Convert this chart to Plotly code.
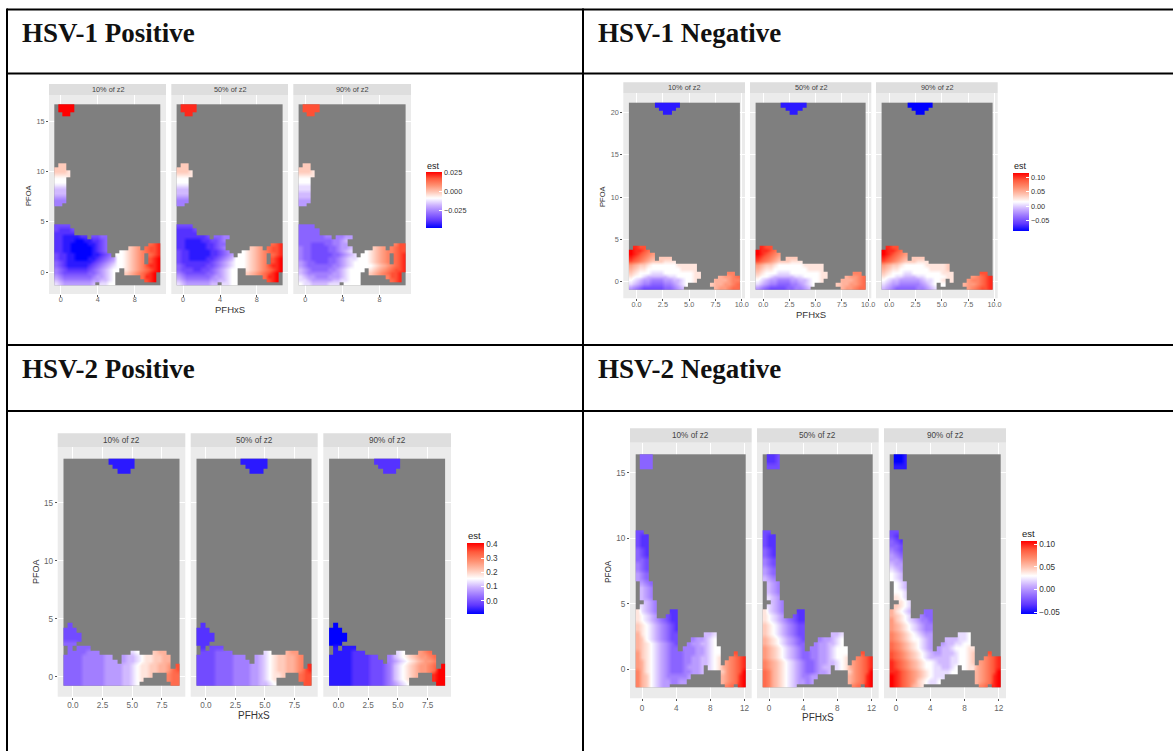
import numpy as np
import plotly.graph_objects as go

W, H = 1173, 751
N_COLS, N_ROWS = 26, 50
LEVELS_NEG = "abcdefghi"

# Estimated values per panel. Row index counts up from the bottom of the grid.
# "col:codes" : a = faint blue ... i = full blue, 0 = white, 1 ... 9 = full red; uncovered cells stay grey.
H1P_10 = {0:"0:abcccccccb 11:aa00", 1:"0:bcdddddddccbba0 22:789", 2:"0:cdeeeeeeedccba0 21:6889",
 3:"0:deffffffeedcba0 17:23456789", 4:"0:defgggggfedcba00 17:123456789", 5:"0:efghhhhhgfedcba00123457889",
 6:"0:efghhhhhhgfedcb0 16:012345 23:789", 7:"0:fgghhiiihhgfedc0 16:012345 23:789",
 8:"0:fgghhiiiihhgfe 15:0 16:012345 23:678", 9:"0:gghhiiiiihgfe 16:012345 22:6778",
 10:"0:gghhiiiiihgfe 18:234 22:6778", 11:"0:gghhiiiihhgfe 23:678", 12:"0:gghhhiihhggfe",
 13:"0:gghhhhgg 9:ffee", 14:"0:ggggg", 15:"0:fgggf", 16:"0:ffff",
 22:"0:dd", 23:"0:ddd", 24:"0:ccc", 25:"0:bbb", 26:"0:bbb", 27:"0:aaa", 28:"0:000", 29:"0:000",
 30:"0:1111", 31:"0:2221", 32:"0:222", 33:"1:22", 47:"2:99", 48:"1:9999", 49:"1:9999"}
H1P_50 = {0:"0:abccccccbb 11:aa00", 1:"0:bcddddddccbba0 14:0 22:789", 2:"0:cdeeeeeedccba00 21:6889",
 3:"0:defffffeedcba00 17:23456789", 4:"0:efffggffedcba00 17:123456789", 5:"0:efgggggffedcba000123457889",
 6:"0:fgggggggfedcba0 15:0 16:012345 23:789", 7:"0:fgghhhhggfedcb0 15:0 16:012345 23:789",
 8:"0:fgghhhhhggfedc 15:0 16:012345 23:678", 9:"0:fgghhhhhggfed 16:012345 22:6778",
 10:"0:gghhhhhggfed 18:234 22:6778", 11:"0:gghhhhhggfee 23:678", 12:"0:gghhhhggffed",
 13:"0:gggggggf 9:eedd", 14:"0:ggggg", 15:"0:ggggf", 16:"0:ffff",
 22:"0:dd", 23:"0:ddd", 24:"0:ccc", 25:"0:bbb", 26:"0:bbb", 27:"0:aaa", 28:"0:000", 29:"0:000",
 30:"0:1111", 31:"0:2221", 32:"0:222", 33:"1:22", 47:"2:88", 48:"1:8888", 49:"1:8888"}
H1P_90 = {0:"0:0aabbbbaaa 11:0000", 1:"0:aabcccccbbaa00 14:0 22:678", 2:"0:abccdddcccba000 21:5778",
 3:"0:bcddddddccba000 17:23456778", 4:"0:bcdeeeeddcba00 14:00 17:123456778",
 5:"0:cdeeeeeeddcba000001234 22:5678", 6:"0:cdeefffeedcba00 15:0 16:012345 23:678",
 7:"0:deeffffeedcbaa0 15:0 16:012345 23:678", 8:"0:deefffffeedcba 15:0 16:012345 23:678",
 9:"0:deeffffeedcba 16:012345 22:5677", 10:"0:deeffffeedccb 18:234 22:5677",
 11:"0:eeefffeeddcc 23:577", 12:"0:eeeeeeeeddcb", 13:"0:eeeeeedd 9:ddcc", 14:"0:eeeee", 15:"0:eeeee",
 16:"0:eeee", 22:"0:cc", 23:"0:ccc", 24:"0:bbb", 25:"0:bbb", 26:"0:aaa", 27:"0:aaa", 28:"0:000",
 29:"0:000", 30:"0:1111", 31:"0:2221", 32:"0:222", 33:"1:22", 47:"2:77", 48:"1:7777", 49:"1:7777"}

H1N_10 = {0:"0:cdefffffeedcb 20:344566", 1:"0:abcddeeeddcba0 19:2334456", 2:"0:0abccdddccbba001 20:333455",
 3:"0:100abbbbbaa000011 21:34456", 4:"0:21000aaa000000011 23:55", 5:"0:3211000000001111",
 6:"0:4322100000011111", 7:"0:76543222111", 8:"0:876543 7:222", 9:"0:987654", 10:"0:98876", 11:"1:877",
 47:"8:hh", 48:"7:hhhh", 49:"6:hhhhhh"}
H1N_50 = {0:"0:cdeffffeeddcb 20:344566", 1:"0:abcddeeeddcba0 19:2334456", 2:"0:0abccdddccbba001 20:333456",
 3:"0:100abbbbbaa000011 21:34456", 4:"0:21000aaa000000011 23:55", 5:"0:3211000000001111",
 6:"0:4322100000011111", 7:"0:76543222111", 8:"0:876543 7:222", 9:"0:987654", 10:"0:98876", 11:"1:877",
 47:"8:hh", 48:"7:hhhh", 49:"6:hhhhhh"}
H1N_90 = {0:"0:bcdeeeeeddcba 20:456778", 1:"0:abccdddddcba0 14:0 19:3445678", 2:"0:0abbcccccbaa001 16:1 20:455678",
 3:"0:100aabbbaa0000011 21:45678", 4:"0:21000aa0000000111 23:77", 5:"0:3211000000011112",
 6:"0:4322100000111112", 7:"0:76543222111", 8:"0:876543 7:222", 9:"0:987654", 10:"0:98876", 11:"1:877",
 47:"8:ii", 48:"7:iiii", 49:"6:iiiiii"}

H2P_10 = {0:"0:eeeedddddccccbba0 24:66", 1:"0:eeeedddddccccbba01 23:566", 2:"0:eeeedddddccccbba0112 23:566",
 3:"0:eeeedddddccccbba01122334 24:67", 4:"0:eeeedddddccccbba01122334 25:7", 5:"0:eeeedddddccc 13:cbba0112233",
 6:"0:eeeedddddcc 13:cbba0112233", 7:"1:eeeeddd 15:a0 20:233", 8:"1:e 3:eee", 9:"0:eee", 10:"0:ffff",
 11:"0:ffff", 12:"0:fff", 13:"1:f", 47:"12:hhh", 48:"11:hhhhh", 49:"10:hhhhhh"}
H2P_50 = {0:"0:ffffeeeeddddccbba0 24:77", 1:"0:ffffeeeeddddccba01 23:677", 2:"0:ffffeeeeddddccba0112 23:677",
 3:"0:ffffeeeeddddccba01223345 24:78", 4:"0:ffffeeeeddddccba01223345 25:8", 5:"0:ffffeeeedddd 13:cba01223345",
 6:"0:ffffeeeeddd 13:cba01223345", 7:"1:fffeeee 15:a0 20:344", 8:"1:g 3:fff", 9:"0:ggg", 10:"0:gggg",
 11:"0:gggg", 12:"0:ggg", 13:"1:g", 47:"12:hhh", 48:"11:hhhhh", 49:"10:hhhhhh"}
H2P_90 = {0:"0:hhhhhggggfffedcba0 24:99", 1:"0:hhhhhggggfffedba01 23:899", 2:"0:hhhhhggggfffedba0123 23:899",
 3:"0:hhhhhggggfffedba01234456 24:99", 4:"0:hhhhhggggfffedba01234456 25:9", 5:"0:hhhhhggggfff 13:dcba0123445",
 6:"0:hhhhhggggff 13:dba01234456", 7:"1:hhhhggg 15:a0 20:456", 8:"1:h 3:hhh", 9:"0:iii", 10:"0:iiii",
 11:"0:iiii", 12:"0:iii", 13:"1:i", 47:"12:ggg", 48:"11:ggggg", 49:"10:gggggg"}

H2N_10 = {0:"0:5320abcc 21:56 24:89", 1:"0:5320abccddcc 20:345689", 2:"0:5320abcdddddc 20:345689",
 3:"0:5310abcdeeeddccb 20:245679", 4:"0:4310abcdeeedcccb 17:a01 20:345678", 5:"0:4310abcdeeeddccbba01 21:45678",
 6:"0:4210abcdeeeddccbba01 22:5678", 7:"0:4210abcdeeedddccba00 23:7", 8:"0:3210abcdee 11:dddccba00",
 9:"0:3210abcdef 12:dccbba0", 10:"0:320abcdeff 13:dcc 16:ba0", 11:"0:310abcdeff 16:bba", 12:"0:210abcdefg",
 13:"0:210abcdefg", 14:"0:10abcdefgg", 15:"0:10abc 7:fgg", 16:"0:1abcd 8:gg", 17:"1:abcd", 18:"2:bcd",
 19:"1:bcd", 20:"1:bcd", 21:"1:bcd", 22:"1:cde", 23:"0:cde", 24:"0:cde", 25:"0:def", 26:"0:def",
 27:"0:eef", 28:"0:efg", 29:"0:efg", 30:"0:fgg", 31:"0:fgg", 32:"0:fgg", 33:"0:ff",
 47:"1:eee", 48:"1:eee", 49:"1:eee"}
H2N_50 = {0:"0:653210ab 21:56 24:89", 1:"0:653210abccdc 20:345689", 2:"0:653210abcddcc 20:345689",
 3:"0:653210abcdeedccb 20:245679", 4:"0:543210abcdeedcbb 17:a01 20:345678", 5:"0:543210abcdeedccbba01 21:45678",
 6:"0:43210abcdeeddccba001 22:5678", 7:"0:43210abcdeeddccba000 23:7", 8:"0:43210abcde 11:ddccba000",
 9:"0:3210abcdee 12:dccbba0", 10:"0:3210abcdef 13:dcc 16:ba0", 11:"0:210abcdeff 16:bba", 12:"0:210abcdeff",
 13:"0:210abcdeff", 14:"0:10abcdefgg", 15:"0:10abc 7:fgg", 16:"0:1abcd 8:gg", 17:"1:abcd", 18:"2:bcd",
 19:"1:abc", 20:"1:bcd", 21:"1:bcd", 22:"1:bcd", 23:"0:bcd", 24:"0:cde", 25:"0:cde", 26:"0:def",
 27:"0:def", 28:"0:efg", 29:"0:efg", 30:"0:fgg", 31:"0:fgg", 32:"0:fgg", 33:"0:ff",
 47:"1:fff", 48:"1:ggf", 49:"1:ggf"}
H2N_90 = {0:"0:98765321 21:56 24:89", 1:"0:987654210aa0 20:345689", 2:"0:9876543210aaa 20:345689",
 3:"0:8876543210aaaa00 20:345679", 4:"0:8765432100aabba0 17:011 20:345678", 5:"0:8765432100abbbaa0012 21:45678",
 6:"0:76543210abbbbbaa0012 22:5678", 7:"0:76543210abccbbba0012 23:7", 8:"0:6543210abc 11:cbba00011",
 9:"0:6543210abc 12:cbbaa00", 10:"0:5432100abc 13:bbb 16:aa0", 11:"0:543210abcc 16:aa0", 12:"0:43210abcdd",
 13:"0:43210abcdd", 14:"0:4210abcdde", 15:"0:3210a 7:dee", 16:"0:310ab 8:ee", 17:"1:210a", 18:"2:10a",
 19:"1:10a", 20:"1:00a", 21:"1:0ab", 22:"1:0ab", 23:"0:0ab", 24:"0:0ab", 25:"0:abc", 26:"0:bcc",
 27:"0:ccd", 28:"0:cde", 29:"0:def", 30:"0:eef", 31:"0:efg", 32:"0:fg", 33:"0:ff",
 47:"1:hhh", 48:"1:iih", 49:"1:iih"}

PANEL_TITLES = ["10% of z2", "50% of z2", "90% of z2"]
Q_TITLES = ["HSV-1 Positive", "HSV-1 Negative", "HSV-2 Positive", "HSV-2 Negative"]

QUADS = [
 dict(panels=[H1P_10, H1P_50, H1P_90], xlim=(-0.71, 10.8), ylim=(-1.32, 16.7),
      px=[(49, 166), (171.3, 288), (293.3, 411)], strip=84, top=95, bot=294, pad=5.3, ypad=(9.3, 8.7),
      xt=[0, 4, 8], xl=["0", "4", "8"], yt=[0, 5, 10, 15], stand=-4,
      est=(-0.0487, -0.0092, 0.0254), bt=[-0.025, 0, 0.025], bl=["−0.025", "0.000", "0.025"],
      bar=(426, 172, 15.7, 56.3), fs=7.3, tfs=9.5, yfs=7.6, ylab=(28, 195), xlab=(230, 309), esty=166),
 dict(panels=[H1N_10, H1N_50, H1N_90], xlim=(-0.73, 9.77), ylim=(-0.95, 21.2),
      px=[(623.3, 745), (750, 871.3), (876, 997.7)], strip=82.3, top=93, bot=298.3, pad=5.6, ypad=(9.7, 9),
      xt=[0, 2.5, 5, 7.5, 10], xl=["0.0", "2.5", "5.0", "7.5", "10.0"], yt=[0, 5, 10, 15, 20], stand=-3,
      est=(-0.0863, 0.0164, 0.1176), bt=[-0.05, 0, 0.05, 0.1], bl=["−0.05", "0.00", "0.05", "0.10"],
      bar=(1013, 172.7, 16.3, 58), fs=7.3, tfs=9.5, yfs=7.6, ylab=(602, 196), xlab=(811, 314), esty=166),
 dict(panels=[H2P_10, H2P_50, H2P_90], xlim=(-0.79, 8.98), ylim=(-0.78, 18.8),
      px=[(57.7, 185.3), (190.7, 317.7), (323.3, 451)], strip=433.3, top=447, bot=696.7, pad=5.8, ypad=(11.7, 11),
      xt=[0, 2.5, 5, 7.5], xl=["0.0", "2.5", "5.0", "7.5"], yt=[0, 5, 10, 15], stand=-2,
      est=(-0.097, 0.154, 0.407), bt=[0, 0.1, 0.2, 0.3, 0.4], bl=["0.0", "0.1", "0.2", "0.3", "0.4"],
      bar=(467, 543.3, 16.7, 71), fs=8.2, tfs=10, yfs=9, ylab=(36, 572), xlab=(254, 715), esty=535),
 dict(panels=[H2N_10, H2N_50, H2N_90], xlim=(-0.74, 12.18), ylim=(-1.4, 16.4),
      px=[(630, 751.7), (757, 878.7), (884, 1006)], strip=428.3, top=442.7, bot=698.3, pad=5.7, ypad=(11.6, 10.6),
      xt=[0, 4, 8, 12], xl=["0", "4", "8", "12"], yt=[0, 5, 10, 15], stand=0,
      est=(-0.055, 0.0294, 0.1066), bt=[-0.05, 0, 0.05, 0.1], bl=["−0.05", "0.00", "0.05", "0.10"],
      bar=(1021.3, 541.3, 16.4, 73.4), fs=8.2, tfs=10, yfs=8.2, ylab=(608, 572), xlab=(818, 717), esty=533),
]

BLUE = ["#0000FF", "#6038FF", "#9670FF", "#CBB0FF", "#FFFFFF"]
RED = ["#FFFFFF", "#FFC4B2", "#FF8E6F", "#FF5A3C", "#FF0000"]
GREY = "#7F7F7F"
TXT = "#666666"
SANS = "Liberation Sans"


def decode(rows, est):
    lo, mid, hi = est
    z = np.full((N_ROWS, N_COLS), np.nan)
    for r, spec in rows.items():
        for seg in spec.split():
            start, codes = seg.split(":")
            for i, c in enumerate(codes):
                col = int(start) + i
                if col >= N_COLS:
                    continue
                if c in LEVELS_NEG:
                    z[r, col] = mid - (LEVELS_NEG.index(c) + 1) / 9 * (mid - lo)
                else:
                    z[r, col] = mid + int(c) / 9 * (hi - mid)
    return z


fig = go.Figure()
shapes, notes = [], []
layout = {}
ax = 0
for qi, q in enumerate(QUADS):
    lo, mid, hi = q["est"]
    w = (mid - lo) / (hi - lo)
    cs = [[w * i / 4, c] for i, c in enumerate(BLUE)] + [[w + (1 - w) * i / 4, c] for i, c in enumerate(RED)][1:]
    bx, by, bw, bh = q["bar"]
    cname = "coloraxis" + ("" if qi == 0 else str(qi + 1))
    layout[cname] = dict(
        cmin=lo, cmax=hi, colorscale=cs,
        colorbar=dict(x=bx / W, xanchor="left", y=1 - by / H, yanchor="top", len=bh, lenmode="pixels",
                      thickness=bw, thicknessmode="pixels", xpad=0, ypad=0, outlinewidth=0, borderwidth=0,
                      tickmode="array", tickvals=q["bt"], ticktext=q["bl"], ticks="inside", ticklen=3,
                      tickcolor="white", tickfont=dict(family=SANS, size=q["fs"], color="#333333")))
    notes.append(dict(x=(bx - 1) / W, y=1 - q["esty"] / H, text="est", xanchor="left", yanchor="middle",
                      font=dict(family=SANS, size=q["tfs"] - 0.5, color="#222222")))
    xe = np.linspace(q["xlim"][0], q["xlim"][1], N_COLS + 1)
    ye = np.linspace(q["ylim"][0], q["ylim"][1], N_ROWS + 1)
    for pi, rows in enumerate(q["panels"]):
        ax += 1
        xn, yn = f"x{ax}", f"y{ax}"
        pL, pR = q["px"][pi]
        rw = pR - pL - 2 * q["pad"]
        ux = (q["xlim"][1] - q["xlim"][0]) / rw
        rh = q["bot"] - q["top"] - sum(q["ypad"])
        uy = (q["ylim"][1] - q["ylim"][0]) / rh
        xr = [q["xlim"][0] - q["pad"] * ux, q["xlim"][1] + q["pad"] * ux]
        yr = [q["ylim"][0] - q["ypad"][1] * uy, q["ylim"][1] + q["ypad"][0] * uy]
        common = dict(showgrid=True, gridcolor="white", gridwidth=1, zeroline=False, showline=False,
                      ticks="outside", ticklen=2, tickwidth=1, tickcolor="#555555",
                      tickfont=dict(family=SANS, size=q["fs"], color=TXT), tickmode="array")
        layout[f"xaxis{ax}"] = dict(domain=[pL / W, pR / W], range=xr, anchor=yn, tickvals=q["xt"],
                                    ticktext=q["xl"], ticklabelstandoff=q["stand"], **common)
        ykw = dict(common)
        ytext = [str(v) for v in q["yt"]]
        if pi > 0:
            ykw.update(ticks="", showticklabels=False)
        layout[f"yaxis{ax}"] = dict(domain=[1 - q["bot"] / H, 1 - q["top"] / H], range=yr, anchor=xn,
                                    tickvals=q["yt"], ticktext=ytext, **ykw)
        fig.add_trace(go.Heatmap(x=xe, y=ye, z=np.zeros((N_ROWS, N_COLS)), xaxis=xn, yaxis=yn, showscale=False,
                                 colorscale=[[0, GREY], [1, GREY]], hoverinfo="skip"))
        fig.add_trace(go.Heatmap(x=xe, y=ye, z=decode(rows, q["est"]), xaxis=xn, yaxis=yn, coloraxis=cname,
                                 zsmooth="best", hoverongaps=False))
        # facet strip
        shapes.append(dict(type="rect", xref="paper", yref="paper", x0=pL / W, x1=pR / W, y0=1 - q["top"] / H,
                           y1=1 - q["strip"] / H, fillcolor="#DEDEDE", line=dict(width=0), layer="below"))
        notes.append(dict(x=(pL + pR) / 2 / W, y=1 - (q["strip"] + q["top"]) / 2 / H, text=PANEL_TITLES[pi],
                          xanchor="center", yanchor="middle",
                          font=dict(family=SANS, size=q["fs"], color="#444444")))
        # panel background
        shapes.append(dict(type="rect", xref="paper", yref="paper", x0=pL / W, x1=pR / W, y0=1 - q["bot"] / H,
                           y1=1 - q["top"] / H, fillcolor="#EBEBEB", line=dict(width=0), layer="below"))
    notes.append(dict(x=q["ylab"][0] / W, y=1 - q["ylab"][1] / H, text="PFOA", textangle=-90, xanchor="center",
                      yanchor="middle", font=dict(family=SANS, size=q["yfs"], color="#333333")))
    notes.append(dict(x=q["xlab"][0] / W, y=1 - q["xlab"][1] / H, text="PFHxS", xanchor="center",
                      yanchor="middle", font=dict(family=SANS, size=q["tfs"], color="#333333")))

# table rules and headings
for yy in [9.5, 73.5, 345, 411]:
    shapes.append(dict(type="line", xref="paper", yref="paper", x0=7 / W, x1=1, y0=1 - yy / H, y1=1 - yy / H,
                       line=dict(color="black", width=2)))
for xx in [7, 583]:
    shapes.append(dict(type="line", xref="paper", yref="paper", x0=xx / W, x1=xx / W, y0=0, y1=1 - 8.5 / H,
                       line=dict(color="black", width=2)))
for t, (tx, ty) in zip(Q_TITLES, [(19.5, 33), (596, 33), (19.5, 369), (596, 369)]):
    notes.append(dict(x=tx / W, y=1 - ty / H, text=f"<b>{t}</b>", xanchor="left", yanchor="middle",
                      font=dict(family="Liberation Serif", size=27, color="#111111")))

for n in notes:
    n.update(xref="paper", yref="paper", showarrow=False)

fig.update_layout(width=W, height=H, margin=dict(l=0, r=0, t=0, b=0, autoexpand=False), paper_bgcolor="white",
                  plot_bgcolor="rgba(0,0,0,0)", showlegend=False, shapes=shapes, annotations=notes, **layout)
css = "var s=document.createElement('style');s.textContent='body{margin:0} .hm image{filter:blur(.6px)}';document.head.appendChild(s);"
fig.write_html("out.html", post_script=css, config=dict(displayModeBar=False))
